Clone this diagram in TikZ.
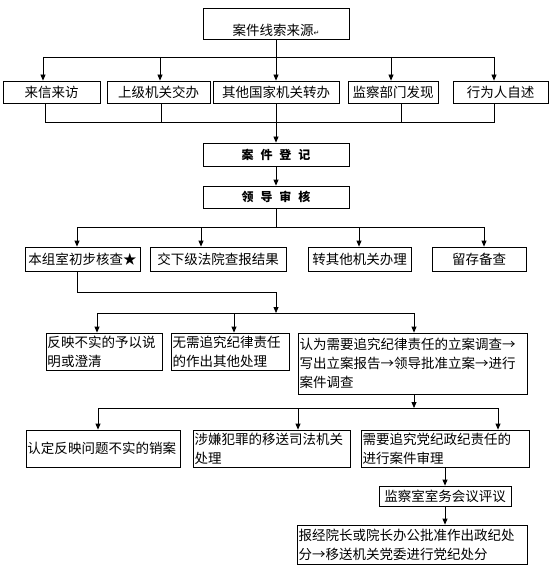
\documentclass[tikz,border=0pt]{standalone}
\usepackage{fontspec}
\setmainfont{Noto Sans CJK SC}
\newfontfamily\symfont{DejaVu Sans}
\usetikzlibrary{arrows.meta}

\begin{document}
\begin{tikzpicture}[x=1bp, y=-1bp,
box/.style={draw, rectangle, line width=0.8bp, inner sep=1.5bp, align=center, font=\fontsize{13.5bp}{19bp}\selectfont},
lbox/.style={box, align=left},
head/.style={box, minimum width=146bp, font=\fontsize{12bp}{14bp}\selectfont\bfseries},
arrow/.style={-{Triangle[length=6bp, width=5bp]}, line width=0.8bp},
line/.style={line width=0.8bp}
]
\useasboundingbox (0,0) rectangle (556,571);
\node[box, minimum width=146bp, minimum height=31bp, inner ysep=1bp, text height=27bp, text depth=2bp] (source) at (276,23.5) {案件线索来源{\symfont\scriptsize ↵}};
\node[box, minimum width=97bp, minimum height=22bp] (letters) at (51.5,92) {来信来访};
\node[box, minimum width=103bp, minimum height=22bp] (superior) at (158.5,92) {上级机关交办};
\node[box, minimum width=126bp, minimum height=22bp] (otherorg) at (276,92) {其他国家机关转办};
\node[box, minimum width=90bp, minimum height=22bp] (found) at (393,92) {监察部门发现};
\node[box, minimum width=95bp, minimum height=22bp] (selfrep) at (500.5,92) {行为人自述};
\node[head, minimum height=23bp] (register) at (276,154.5) {案\hspace{7bp}件\hspace{7bp}登\hspace{7bp}记};
\node[head, minimum height=22bp] (review) at (276,197) {领\hspace{7bp}导\hspace{7bp}审\hspace{7bp}核};
\node[box, minimum width=115bp, minimum height=24bp] (check) at (82.5,259) {本组室初步核查★};
\node[box, minimum width=136bp, minimum height=24bp] (lower) at (218,259) {交下级法院查报结果};
\node[box, minimum width=103bp, minimum height=24bp] (transfer) at (359.5,259) {转其他机关办理};
\node[box, minimum width=94bp, minimum height=24bp] (keep) at (479,259) {留存备查};
\node[lbox, text width=113bp, minimum height=37bp] (clarify) at (104,351.5) {反映不实的予以说\\明或澄清};
\node[lbox, text width=115bp, minimum height=37bp] (otherdeal) at (230,351.5) {无需追究纪律责任\\的作出其他处理};
\node[lbox, text width=226bp, minimum height=61bp] (filecase) at (412.5,363.5) {认为需要追究纪律责任的立案调查→\\写出立案报告→领导批准立案→进行\\案件调查};
\node[lbox, text width=151bp, minimum height=37bp] (cancel) at (103,448.5) {认定反映问题不实的销案};
\node[lbox, text width=154bp, minimum height=37bp] (judicial) at (271.5,448.5) {涉嫌犯罪的移送司法机关\\处理};
\node[lbox, text width=165bp, minimum height=37bp] (trial) at (445,448.5) {需要追究党纪政纪责任的\\进行案件审理};
\node[box, minimum width=132bp, minimum height=20bp] (meeting) at (445,496) {监察室室务会议评议};
\node[lbox, text width=227bp, minimum height=39bp] (punish) at (412,544.5) {报经院长或院长办公批准作出政纪处\\分→移送机关党委进行党纪处分};
\coordinate (ta) at (43,57);
\coordinate (tb) at (160,57);
\coordinate (td) at (391,57);
\coordinate (te) at (494,57);
\draw[line] (ta) -- (te);
\draw[arrow] (source) -- (otherorg);
\draw[arrow] (ta) -- (ta |- letters.north);
\draw[arrow] (tb) -- (tb |- superior.north);
\draw[arrow] (td) -- (td |- found.north);
\draw[arrow] (te) -- (te |- selfrep.north);
\coordinate (ba) at (45,122);
\coordinate (bb) at (161,122);
\coordinate (bd) at (401,122);
\coordinate (be) at (494,122);
\draw[line] (ba |- letters.south) -- (ba) -- (be) -- (be |- selfrep.south);
\draw[line] (bb |- superior.south) -- (bb);
\draw[line] (bd |- found.south) -- (bd);
\draw[arrow] (otherorg) -- (register);
\draw[arrow] (register) -- (review);
\coordinate (ma) at (77,227);
\coordinate (mb) at (201,227);
\coordinate (mc) at (359,227);
\coordinate (md) at (484,227);
\draw[line] (review) -- (review |- ma);
\draw[line] (ma) -- (md);
\draw[arrow] (ma) -- (ma |- check.north);
\draw[arrow] (mb) -- (mb |- lower.north);
\draw[arrow] (mc) -- (mc |- transfer.north);
\draw[arrow] (md) -- (md |- keep.north);
\coordinate (ka) at (77,292);
\coordinate (kb) at (276,313);
\draw[arrow] (ka |- check.south) -- (ka) -| (kb);
\coordinate (ra) at (97,313);
\coordinate (rb) at (234,313);
\coordinate (rc) at (414,313);
\draw[line] (ra) -- (rc);
\draw[arrow] (ra) -- (ra |- clarify.north);
\draw[arrow] (rb) -- (rb |- otherdeal.north);
\draw[arrow] (rc) -- (rc |- filecase.north);
\coordinate (sa) at (98,408);
\coordinate (sb) at (298,408);
\coordinate (sc) at (498,408);
\coordinate (sx) at (414,408);
\draw[arrow] (sx |- filecase.south) -- (sx);
\draw[line] (sa) -- (sc);
\draw[arrow] (sa) -- (sa |- cancel.north);
\draw[arrow] (sb) -- (sb |- judicial.north);
\draw[arrow] (sc) -- (sc |- trial.north);
\draw[arrow] (trial) -- (meeting);
\draw[arrow] (meeting) -- (meeting |- punish.north);
\end{tikzpicture}
\end{document}
